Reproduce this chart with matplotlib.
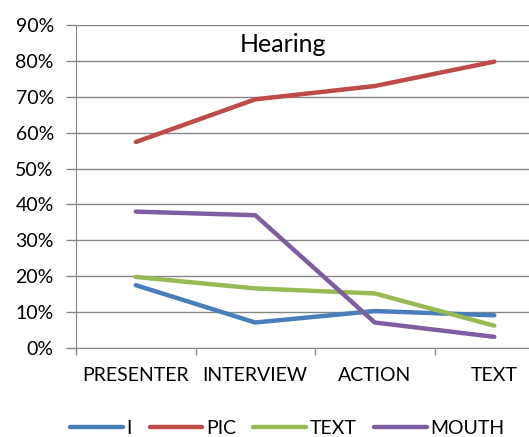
import matplotlib
matplotlib.use("Agg")
import matplotlib.pyplot as plt
from matplotlib.ticker import PercentFormatter

plt.rcParams['font.family'] = ['Lato', 'DejaVu Sans']

# categories and series values (fractions)
categories = ["PRESENTER", "INTERVIEW", "ACTION", "TEXT"]
i_vals = [0.175, 0.071, 0.103, 0.091]
pic_vals = [0.574, 0.693, 0.730, 0.798]
text_vals = [0.198, 0.166, 0.152, 0.062]
mouth_vals = [0.380, 0.370, 0.071, 0.031]

series = [("I", i_vals, "#4A7EBB"),
          ("PIC", pic_vals, "#BE4B48"),
          ("TEXT", text_vals, "#98B954"),
          ("MOUTH", mouth_vals, "#7D5FA0")]

fig = plt.figure(figsize=(5.29, 4.37), dpi=100)
ax = fig.add_axes([0.1437, 0.2037, 0.9036, 0.739])

x = list(range(len(categories)))
for name, vals, col in series:
    ax.plot(x, vals, color=col, lw=3.2, label=name, solid_capstyle='round',
            solid_joinstyle='round')

ax.set_xlim(-0.5, len(categories) - 0.5)
ax.set_ylim(0, 0.9)
ax.set_yticks([k / 10 for k in range(10)])
ax.yaxis.set_major_formatter(PercentFormatter(1.0, decimals=0))
ax.grid(axis='y', color='#868686', lw=1)
ax.set_axisbelow(True)

# category boundaries as ticks, labels centered on categories
ax.set_xticks([k - 0.5 for k in range(len(categories) + 1)])
ax.set_xticklabels([])
ax.set_xticks(x, minor=True)
ax.set_xticklabels(categories, minor=True, fontsize=14)
ax.tick_params(axis='x', which='minor', length=0, pad=14)
ax.tick_params(axis='x', which='major', length=5, color='#868686', width=1)
ax.tick_params(axis='y', length=7, color='#868686', width=1, labelsize=14, pad=9)

for s in ['top', 'right']:
    ax.spines[s].set_visible(False)
ax.spines['left'].set_color('#868686')
ax.spines['bottom'].set_color('#868686')

ax.text(0.433, 0.94, "Hearing", transform=ax.transAxes, ha='center',
        va='center', fontsize=18)

fig.legend(loc='center', bbox_to_anchor=(0.5435, 0.02), ncol=4, frameon=False,
           fontsize=14, handlelength=2.7, handletextpad=0.2, columnspacing=0.9)

fig.savefig("out.png", dpi=100)
